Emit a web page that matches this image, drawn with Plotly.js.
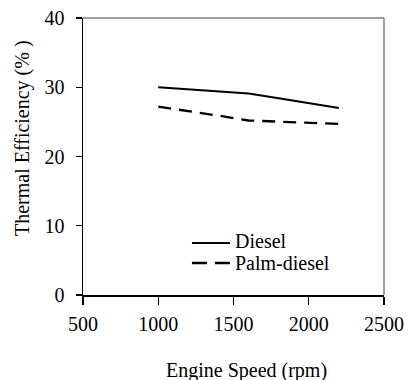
<!DOCTYPE html>
<html>
<head>
<meta charset="utf-8">
<script src="https://cdn.plot.ly/plotly-3.0.1.min.js"></script>
<style>html,body{margin:0;padding:0;background:#fff;}#chart{width:408px;height:380px;}</style>
</head>
<body>
<div id="chart"></div>
<script>
var speed = [1000, 1200, 1400, 1600, 1800, 2000, 2200];
var diesel = [30.0, 29.7, 29.4, 29.1, 28.4, 27.7, 27.0];
var palmDiesel = [27.2, 26.6, 25.9, 25.2, 25.0, 24.9, 24.7];
var seriesNames = ['Diesel', 'Palm-diesel'];
var xTicks = [500, 1000, 1500, 2000, 2500];
var yTicks = [0, 10, 20, 30, 40];
var xTitle = 'Engine Speed (rpm)';
var yTitle = 'Thermal Efficiency (% )';

var FONT = '"Liberation Serif", "Times New Roman", serif';

var traces = [
  {x: speed, y: diesel, name: seriesNames[0], mode: 'lines', type: 'scatter',
   line: {color: '#000', width: 2}, showlegend: false},
  {x: speed, y: palmDiesel, name: seriesNames[1], mode: 'lines', type: 'scatter',
   line: {color: '#000', width: 2.3, dash: '13px,8px'}, showlegend: false}
];

var layout = {
  width: 408, height: 380,
  margin: {l: 83, r: 24, t: 18, b: 85},
  paper_bgcolor: '#fff', plot_bgcolor: '#fff',
  font: {family: FONT, size: 20, color: '#000'},
  showlegend: false,
  xaxis: {
    range: [500, 2500], tickvals: xTicks, ticktext: xTicks.map(String),
    showgrid: false, zeroline: false, showline: true, linecolor: '#000', linewidth: 1.5,
    ticks: 'outside', ticklen: 8, tickwidth: 1.2, tickcolor: '#000',
    ticklabelstandoff: 2,
    tickfont: {family: FONT, size: 20, color: '#000'}
  },
  yaxis: {
    range: [0, 40], tickvals: yTicks, ticktext: yTicks.map(String),
    showgrid: false, zeroline: false, showline: true, linecolor: '#000', linewidth: 1.5,
    ticks: 'outside', ticklen: 6, tickwidth: 1.2, tickcolor: '#000',
    ticklabelstandoff: 7,
    tickfont: {family: FONT, size: 20, color: '#000'}
  },
  shapes: [
    {type: 'line', xref: 'paper', yref: 'paper', x0: 0, x1: 1, y0: 1, y1: 1,
     line: {color: '#808080', width: 1.5}},
    {type: 'line', xref: 'paper', yref: 'paper', x0: 1, x1: 1, y0: 0, y1: 1,
     line: {color: '#808080', width: 1.5}},
    {type: 'line', xref: 'paper', yref: 'paper', x0: 0.362, x1: 0.488, y0: 0.188, y1: 0.188,
     line: {color: '#000', width: 2}},
    {type: 'line', xref: 'paper', yref: 'paper', x0: 0.362, x1: 0.488, y0: 0.1155, y1: 0.1155,
     line: {color: '#000', width: 2.5, dash: '15px,8px'}}
  ],
  annotations: [
    {text: seriesNames[0], xref: 'paper', yref: 'paper', x: 0.497, y: 0.195,
     xanchor: 'left', yanchor: 'middle', showarrow: false, font: {family: FONT, size: 20, color: '#000'}},
    {text: seriesNames[1], xref: 'paper', yref: 'paper', x: 0.497, y: 0.1155,
     xanchor: 'left', yanchor: 'middle', showarrow: false, font: {family: FONT, size: 20, color: '#000'}},
    {text: xTitle, xref: 'paper', yref: 'paper', x: 0.543, y: -0.271,
     xanchor: 'center', yanchor: 'middle', showarrow: false, font: {family: FONT, size: 20, color: '#000'}},
    {text: yTitle, xref: 'paper', yref: 'paper', x: -0.199, y: 0.567, textangle: -90,
     xanchor: 'center', yanchor: 'middle', showarrow: false, font: {family: FONT, size: 20, color: '#000'}}
  ]
};

Plotly.newPlot('chart', traces, layout, {displayModeBar: false, staticPlot: true});
</script>
</body>
</html>
